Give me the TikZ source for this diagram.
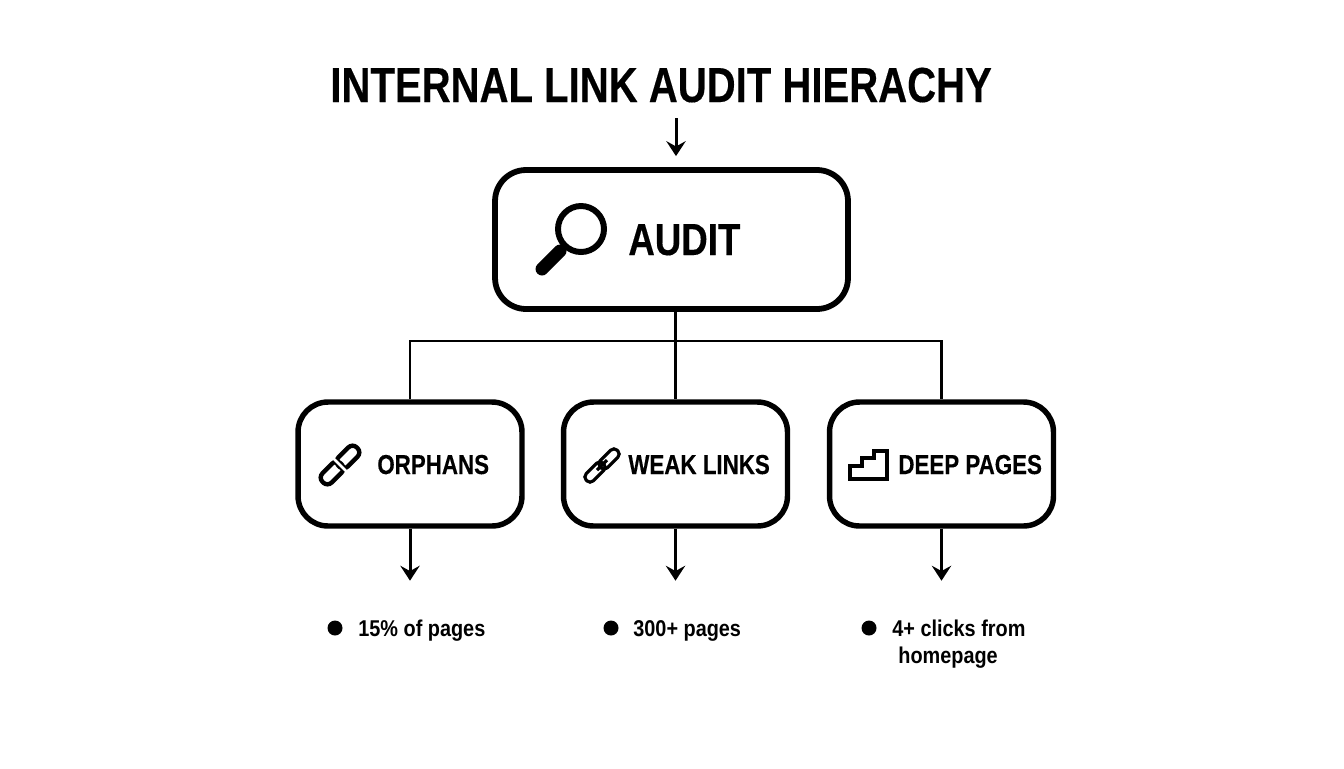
\documentclass[tikz,border=0pt]{standalone}
\usepackage{fontspec}
\setmainfont{Liberation Sans}[FakeStretch=0.87]
\newfontfamily\headfont{Liberation Sans}[FakeStretch=0.815,FakeBold=0.3]
\usetikzlibrary{arrows.meta}
\tikzset{
	bigbox/.style={draw,line width=3.3pt,rounded corners=0.62cm,minimum width=7.06cm,minimum height=2.78cm},
	smallbox/.style={draw,line width=3.1pt,rounded corners=0.6cm,minimum width=4.48cm,minimum height=2.48cm},
	linkline/.style={line width=1.6pt},
	linkarrow/.style={line width=1.7pt,-{Stealth[length=8.5pt,width=11pt,inset=3pt]}},
	boxtext/.style={anchor=base west,inner sep=0pt,font=\headfont\bfseries\fontsize{15.6}{18}\selectfont},
	stattext/.style={anchor=base west,inner sep=0pt,align=left,font=\bfseries\fontsize{13}{15.3}\selectfont},
	statdot/.style={circle,fill,inner sep=0pt,minimum size=0.3cm}
}
\begin{document}
\begin{tikzpicture}[x=0.02cm,y=-0.02cm]
\useasboundingbox (0,0) rectangle (1344,768);

\node[anchor=base west,inner sep=0pt,font=\headfont\bfseries\fontsize{28}{32}\selectfont] (title) at (330,102) {INTERNAL LINK AUDIT HIERACHY};

\node[bigbox] (audit) at (671.5,239.5) {};
\node[smallbox] (orphans) at (410,464) {};
\node[smallbox] (weak) at (675.5,464) {};
\node[smallbox] (deep) at (941.5,464) {};

\node[anchor=base west,inner sep=0pt,font=\headfont\bfseries\fontsize{25.6}{30}\selectfont] (audittext) at (628,255) {AUDIT};
\node[boxtext] (orphanstext) at (377,474) {ORPHANS};
\node[boxtext] (weaktext) at (628,474) {WEAK LINKS};
\node[boxtext] (deeptext) at (898,474) {DEEP PAGES};

% connectors
\coordinate (start) at (676,118);
\coordinate (bar) at (676,341);
\draw[linkarrow,shorten >=0.22cm] (start) -- (start |- audit.north);
\draw[linkline] (audit.south -| weak.north) -- (weak.north);
\draw[linkline] (orphans.north) |- (bar) -| (deep.north);
\foreach \n in {orphans,weak,deep}
{
	\coordinate (\n tip) at ([yshift=-1.04cm]\n.south);
	\draw[linkarrow] (\n.south) -- (\n tip);
}

% magnifier
\draw[line width=3.4pt] (581,229) circle (23);
\draw[line width=2pt] (566,245) -- (558,253);
\draw[line width=7.4pt,line cap=round] (560,251) -- (542,269);

% broken chain
\begin{scope}[line width=2.5pt,rounded corners=0.12cm]
\draw[rotate around={45:(348,457)}] (335,450.5) rectangle (361,463.5);
\draw[rotate around={45:(332,473)}] (319,466.5) rectangle (345,479.5);
\end{scope}
\draw[white,line width=1.5pt] (334,459) -- (346,471);

% chain
\begin{scope}[line width=1.8pt,rounded corners=0.09cm]
\draw[rotate around={45:(609,459)}] (597,454) rectangle (621,464);
\draw[rotate around={45:(595,472)}] (583,467) rectangle (607,477);
\end{scope}
\draw[line width=1.8pt] (597,470) -- (607,460);

% stairs
\draw[line width=2pt] (850,479) -- (850,466) -- (862,466) -- (862,458) -- (874,458) -- (874,451) -- (887,451) -- (887,479) -- cycle;

% stats
\node[statdot] (dotone) at (335,628) {};
\node[statdot] (dottwo) at (611,628) {};
\node[statdot] (dotthree) at (869,628) {};
\node[stattext] (statone) at (358,636) {15\% of pages};
\node[stattext] (stattwo) at (633,636) {300+ pages};
\node[stattext] (statthree) at (892,663) {4+ clicks from\\\hspace*{0.12cm}homepage};
\end{tikzpicture}
\end{document}
